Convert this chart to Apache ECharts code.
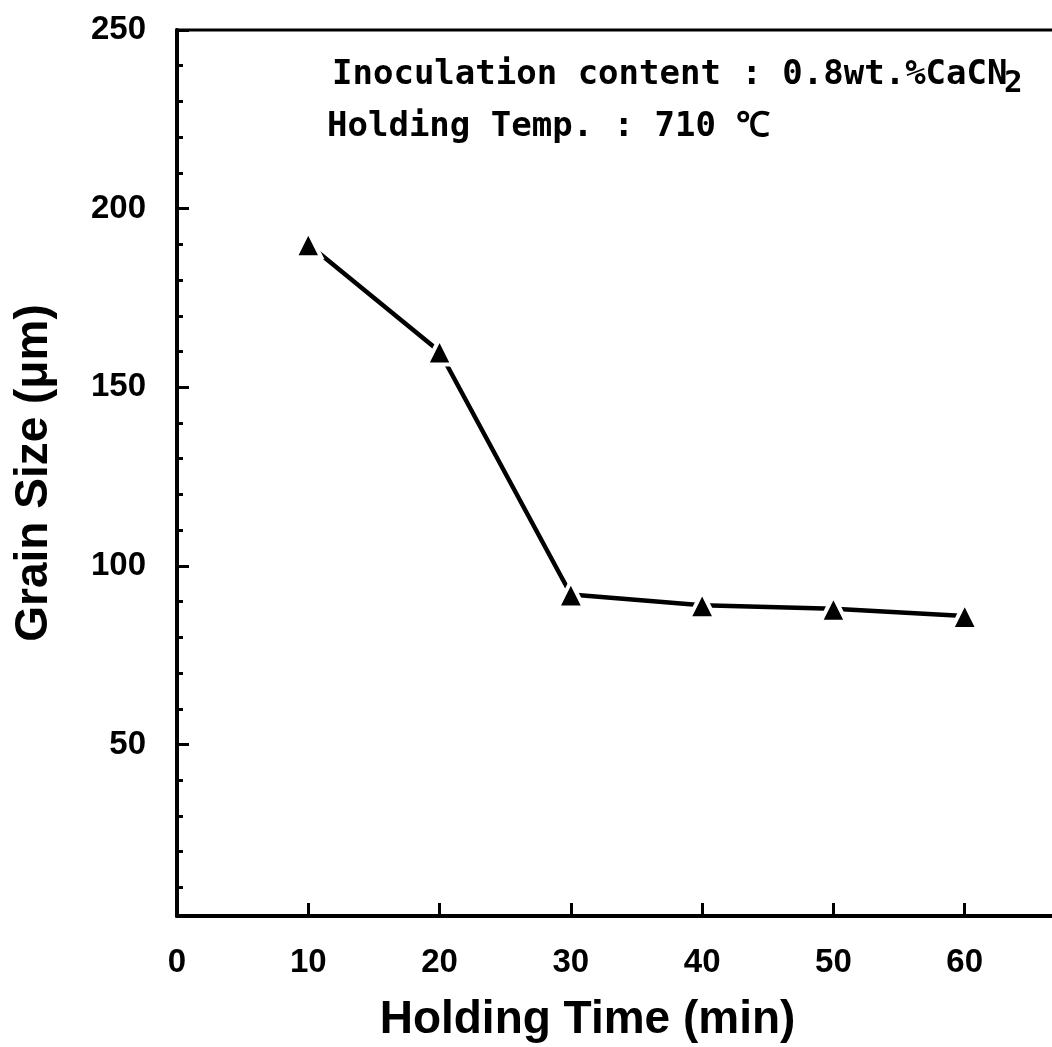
<!DOCTYPE html>
<html>
<head>
<meta charset="utf-8">
<script src="https://cdn.jsdelivr.net/npm/echarts@6/dist/echarts.min.js"></script>
<style>
html,body{margin:0;padding:0;background:#fff;}
#chart{width:1052px;height:1047px;}
</style>
</head>
<body>
<div id="chart"></div>
<script>
const holdingTime = [10, 20, 30, 40, 50, 60];
const grainSize = [190, 160, 92, 89, 88, 86];
const yLabelValues = [50, 100, 150, 200, 250];
const yMinorValues = [10, 20, 30, 40, 60, 70, 80, 90, 110, 120, 130, 140, 160, 170, 180, 190, 210, 220, 230, 240];
const xTitle = 'Holding Time (min)';
const yTitle = 'Grain Size (\u03bcm)';
const noteLine1 = 'Inoculation content : 0.8wt.%CaCN';
const noteSub = '2';
const noteLine2 = 'Holding Temp. : 710 \u2103';

const chart = echarts.init(document.getElementById('chart'), null, {renderer: 'canvas'});
const labelFont = {color: '#000', fontFamily: 'Liberation Sans, Arial, sans-serif', fontWeight: 'bold', fontSize: 33};
const monoFont = '"DejaVu Sans Mono", "Liberation Mono", monospace';

chart.setOption({
  backgroundColor: '#fff',
  animation: false,
  grid: {left: 177, top: 30, right: -44, bottom: 131, show: true, borderColor: '#000', borderWidth: 3,
         backgroundColor: 'transparent', containLabel: false, outerBoundsMode: 'none'},
  xAxis: {
    type: 'value', min: 0, max: 70, interval: 10,
    name: xTitle, nameLocation: 'middle', nameGap: 81,
    nameTextStyle: {color: '#000', fontFamily: 'Liberation Sans, Arial, sans-serif', fontWeight: 'bold', fontSize: 46, padding: [0, 98, 0, 0]},
    axisLine: {show: true, lineStyle: {color: '#000', width: 4}},
    axisTick: {show: true, inside: true, length: 13, lineStyle: {color: '#000', width: 3}},
    axisLabel: Object.assign({margin: 30}, labelFont),
    splitLine: {show: false}
  },
  yAxis: [{
    type: 'value', min: 2, max: 250,
    name: yTitle, nameLocation: 'middle', nameGap: 120, nameRotate: 90,
    nameTextStyle: {color: '#000', fontFamily: 'Liberation Sans, Arial, sans-serif', fontWeight: 'bold', fontSize: 46},
    axisLine: {show: true, lineStyle: {color: '#000', width: 4}},
    axisTick: {show: true, inside: true, length: 12, customValues: yLabelValues, lineStyle: {color: '#000', width: 3}},
    axisLabel: Object.assign({margin: 31, customValues: yLabelValues}, labelFont),
    splitLine: {show: false}
  }, {
    type: 'value', min: 2, max: 250, position: 'left',
    axisLine: {show: false},
    axisTick: {show: true, inside: true, length: 6, customValues: yMinorValues, lineStyle: {color: '#000', width: 3}},
    axisLabel: {show: false},
    splitLine: {show: false}
  }],
  graphic: [{
    type: 'text', left: 332, top: 58,
    style: {text: noteLine1, fill: '#000', font: 'bold 34px ' + monoFont}
  }, {
    type: 'text', left: 1004, top: 68,
    style: {text: noteSub, fill: '#000', font: 'bold 31px ' + monoFont}
  }, {
    type: 'text', left: 327, top: 110,
    style: {text: noteLine2, fill: '#000', font: 'bold 34px ' + monoFont}
  }],
  series: [{
    type: 'line',
    data: holdingTime.map((t, i) => [t, grainSize[i]]),
    symbol: 'triangle', symbolSize: 26,
    lineStyle: {color: '#000', width: 4.5},
    itemStyle: {color: '#000', borderColor: '#fff', borderWidth: 4},
    z: 3
  }]
});
</script>
</body>
</html>
